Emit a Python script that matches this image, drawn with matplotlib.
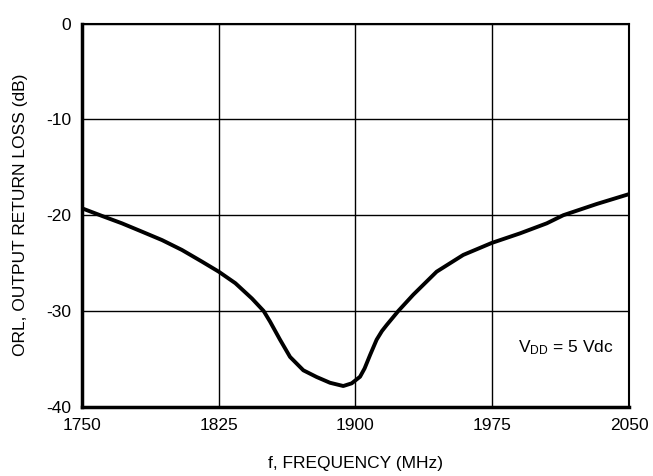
import matplotlib
matplotlib.use("Agg")
import matplotlib.pyplot as plt

plt.rcParams['font.family'] = ['Liberation Sans Narrow', 'Liberation Sans', 'DejaVu Sans']
plt.rcParams['mathtext.fontset'] = 'custom'
plt.rcParams['mathtext.rm'] = 'Liberation Sans'
plt.rcParams['mathtext.it'] = 'Liberation Sans'
plt.rcParams['axes.unicode_minus'] = False

# Output return loss vs frequency
freq_mhz = [1750, 1761, 1771.9, 1782.9, 1793.9, 1804.8, 1815.8, 1825, 1834.1,
            1843.2, 1849.6, 1853.1, 1858.6, 1864.1, 1871.4, 1878.7, 1886,
            1893.3, 1897.9, 1902.5, 1905, 1908, 1911.6, 1914.5, 1917.1, 1923.5,
            1931.7, 1944.5, 1959.1, 1974.7, 1990.2, 2004.9, 2014, 2032.3, 2050]
orl_db = [-19.28, -20.08, -20.85, -21.72, -22.6, -23.63, -24.85, -25.9, -27.1,
          -28.7, -30.0, -31.1, -33.0, -34.8, -36.2, -36.9, -37.5,
          -37.84, -37.56, -36.87, -36.0, -34.6, -33.0, -32.1, -31.47, -30.0,
          -28.3, -25.9, -24.15, -22.9, -21.9, -20.85, -20.0, -18.83, -17.8]

x_ticks = [1750, 1825, 1900, 1975, 2050]
y_ticks = [-40, -30, -20, -10, 0]

fig = plt.figure(figsize=(6.53, 4.76), dpi=100)
ax = fig.add_axes([0.1256, 0.1456, 0.8376, 0.8046])

ax.plot(freq_mhz, orl_db, color='black', lw=2.8, solid_joinstyle='round',
        solid_capstyle='butt', zorder=3)

ax.set_xlim(1750, 2050)
ax.set_ylim(-40, 0)
ax.set_xticks(x_ticks)
ax.set_yticks(y_ticks)
ax.grid(True, color='black', lw=1.0)
ax.tick_params(length=0, labelsize=12.5, pad=8)

ax.spines['left'].set_linewidth(2.5)
ax.spines['bottom'].set_linewidth(2.5)
ax.spines['top'].set_linewidth(1.5)
ax.spines['right'].set_linewidth(1.5)

ax.set_xlabel('f, FREQUENCY (MHz)', fontsize=12.5, labelpad=17)
ax.set_ylabel('ORL, OUTPUT RETURN LOSS (dB)', fontsize=12.5, labelpad=13)

ax.text(1989, -33.8, r'V$_{\mathrm{DD}}$ = 5 Vdc', fontsize=12.5, ha='left', va='center')

fig.savefig('out.png', dpi=100)
